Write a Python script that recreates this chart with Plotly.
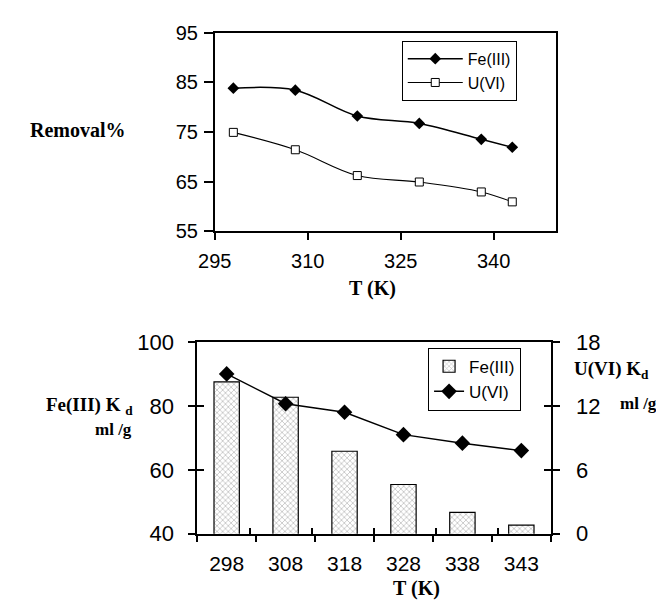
import plotly.graph_objects as go

# ---- data ----
temps = [298, 308, 318, 328, 338, 343]
temp_labels = ["298", "308", "318", "328", "338", "343"]
removal_fe = [83.8, 83.4, 78.2, 76.7, 73.5, 71.9]
removal_u = [74.9, 71.4, 66.2, 64.9, 62.9, 60.9]
kd_fe = [87.5, 82.7, 65.8, 55.4, 46.7, 42.7]
kd_u = [15.0, 12.2, 11.4, 9.3, 8.5, 7.8]

W, H = 656, 611
def px(x):
    return x / W
def py(y):
    return 1 - y / H

SANS = "Liberation Sans, Arial, sans-serif"
SERIF = "Liberation Serif, Times New Roman, serif"

fig = go.Figure()

# ---- top chart ----
fig.add_trace(go.Scatter(
    x=temps, y=removal_fe, name="Fe(III)", mode="lines+markers",
    line=dict(color="black", width=1.5, shape="spline", smoothing=1),
    marker=dict(symbol="diamond", size=9, color="black"),
    xaxis="x", yaxis="y", legend="legend"))
fig.add_trace(go.Scatter(
    x=temps, y=removal_u, name="U(VI)", mode="lines+markers",
    line=dict(color="black", width=1.1, shape="spline", smoothing=1),
    marker=dict(symbol="square", size=8, color="white", line=dict(color="black", width=1)),
    xaxis="x", yaxis="y", legend="legend"))

# ---- bottom chart ----
fig.add_trace(go.Bar(
    x=temp_labels, y=kd_fe, name="Fe(III)", xaxis="x2", yaxis="y2", width=0.43,
    marker=dict(color="white", line=dict(color="black", width=1.2),
                pattern=dict(shape="x", size=4, solidity=0.3, fgcolor="#666", bgcolor="white")),
    legend="legend2"))
fig.add_trace(go.Scatter(
    x=temp_labels, y=kd_u, name="U(VI)", mode="lines+markers", xaxis="x2", yaxis="y3",
    line=dict(color="black", width=1.5),
    marker=dict(symbol="diamond", size=12, color="black"),
    legend="legend2"))

# invisible helpers for crossing (inside) ticks
fig.add_trace(go.Scatter(x=temp_labels, y=kd_fe, xaxis="x3", yaxis="y4", mode="markers",
                         marker=dict(opacity=0), showlegend=False, hoverinfo="skip"))
fig.add_trace(go.Scatter(x=temp_labels, y=kd_u, xaxis="x3", yaxis="y5", mode="markers",
                         marker=dict(opacity=0), showlegend=False, hoverinfo="skip"))

top_xd = [px(203), px(553)]
top_yd = [py(228.5), py(21.5)]
bot_xd = [px(185), px(548)]
bot_yd = [py(544), py(344)]

axline = dict(showline=True, linecolor="black", linewidth=1.5, showgrid=False, zeroline=False,
              tickcolor="black", tickwidth=1.5)
inner = dict(showticklabels=False, showline=False, showgrid=False, zeroline=False,
             tickcolor="black", tickwidth=1.5)

fig.update_layout(
    width=W, height=H, autosize=False,
    margin=dict(l=0, r=0, t=0, b=0),
    paper_bgcolor="white", plot_bgcolor="white",
    showlegend=True,
    barmode="overlay",
    xaxis=dict(domain=top_xd, anchor="y", range=[295, 350], tick0=295, dtick=15,
               ticks="outside", ticklen=7, mirror=True, ticklabelstandoff=4,
               tickfont=dict(family=SANS, size=20, color="black"), **axline),
    yaxis=dict(domain=top_yd, anchor="x", range=[55, 95], tick0=55, dtick=10,
               ticks="outside", ticklen=9, mirror=True, ticklabelstandoff=2,
               tickfont=dict(family=SANS, size=20, color="black"), **axline),
    xaxis2=dict(domain=bot_xd, anchor="y2", type="category", tickson="boundaries",
                ticks="outside", ticklen=7, mirror=True, ticklabelstandoff=10,
                tickfont=dict(family=SANS, size=21, color="black"), **axline),
    yaxis2=dict(domain=bot_yd, anchor="x2", range=[40, 100], dtick=20,
                ticks="outside", ticklen=7, ticklabelstandoff=10,
                tickfont=dict(family=SANS, size=22, color="black"), **axline),
    yaxis3=dict(overlaying="y2", anchor="x2", side="right", range=[0, 18], dtick=6,
                ticks="outside", ticklen=7, ticklabelstandoff=12,
                tickfont=dict(family=SANS, size=22, color="black"), **axline),
    xaxis3=dict(overlaying="x2", anchor="y2", type="category", tickson="boundaries",
                ticks="inside", ticklen=6, **inner),
    yaxis4=dict(overlaying="y2", anchor="x2", side="left", range=[40, 100], dtick=20,
                ticks="inside", ticklen=7, **inner),
    yaxis5=dict(overlaying="y2", anchor="x2", side="right", range=[0, 18], dtick=6,
                ticks="inside", ticklen=7, **inner),
    legend=dict(x=px(395), y=py(30), xanchor="left", yanchor="top",
                bordercolor="black", borderwidth=1, bgcolor="white",
                font=dict(family=SANS, size=16, color="black"), itemwidth=55),
    legend2=dict(x=px(422), y=py(350), xanchor="left", yanchor="top",
                 bordercolor="black", borderwidth=1, bgcolor="white",
                 font=dict(family=SANS, size=17, color="black"), itemwidth=30),
)

bold = dict(family=SERIF, size=20, color="black")
bold19 = dict(family=SERIF, size=19, color="black")
small_bold = dict(family=SERIF, size=17, color="black")
annots = [
    dict(text="<b>Removal%</b>", x=px(11), y=py(123), xanchor="left", yanchor="middle", font=bold),
    dict(text="<b>T (K)</b>", x=px(365), y=py(288), xanchor="center", yanchor="middle", font=bold),
    dict(text="<b>Fe(III) K <sub>d</sub></b>", x=px(121), y=py(411), xanchor="right", yanchor="middle", font=bold19),
    dict(text="<b>ml /g</b>", x=px(120), y=py(435), xanchor="right", yanchor="middle", font=small_bold),
    dict(text="<b>U(VI) K<sub>d</sub></b>", x=px(570), y=py(373), xanchor="left", yanchor="middle", font=bold19),
    dict(text="<b>ml /g</b>", x=px(617), y=py(408), xanchor="left", yanchor="middle", font=small_bold),
    dict(text="<b>T (K)</b>", x=px(410), y=py(601), xanchor="center", yanchor="middle", font=bold),
]
for a in annots:
    fig.add_annotation(xref="paper", yref="paper", showarrow=False, **a)

fig.write_html("out.html")
